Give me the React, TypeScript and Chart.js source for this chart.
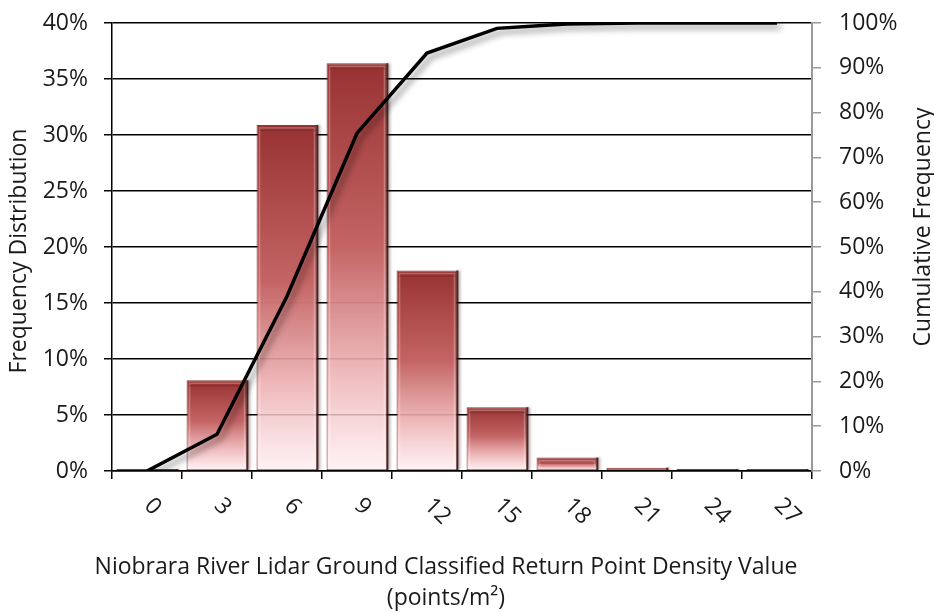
import { useEffect, useRef } from "react";
import { Chart, registerables } from "chart.js";

Chart.register(...registerables);

// Point density classes (points/m²)
const densityClasses = ["0", "3", "6", "9", "12", "15", "18", "21", "24", "27"];
// Share of cells in each class, percent
const frequencyPct = [0.1, 8.1, 30.9, 36.4, 17.9, 5.7, 1.2, 0.3, 0.1, 0.1];
// Running total, percent
const cumulativePct = [0, 8.2, 39.0, 75.4, 93.3, 98.8, 99.8, 100, 100, 100];
// Axis tick values
const frequencyTicks = [0, 5, 10, 15, 20, 25, 30, 35, 40];
const cumulativeTicks = [0, 10, 20, 30, 40, 50, 60, 70, 80, 90, 100];

const FONT = '"Open Sans", "Noto Sans", sans-serif';
const TEXT = "#1a1a1a";
const FONT_SIZE = 23;

const xTitleLines = [
  "Niobrara River Lidar Ground Classified Return Point Density Value",
  "(points/m²)",
];
const leftTitle = "Frequency Distribution";
const rightTitle = "Cumulative Frequency";

const shadowPlugin = {
  id: "shadows",
  beforeDatasetDraw(chart: any, args: any) {
    const ctx = chart.ctx;
    ctx.save();
    if (args.index === 1) {
      ctx.shadowColor = "rgba(0,0,0,0.45)";
      ctx.shadowBlur = 6;
      ctx.shadowOffsetX = 4;
      ctx.shadowOffsetY = 4;
    }
  },
  afterDatasetDraw(chart: any, args: any) {
    const ctx = chart.ctx;
    ctx.restore();
    if (args.index === 0) {
      // bevel edges on each bar
      const meta = chart.getDatasetMeta(0);
      ctx.save();
      meta.data.forEach((bar: any) => {
        const h = bar.base - bar.y;
        const l = bar.x - bar.width / 2;
        const r = bar.x + bar.width / 2;
        ctx.save();
        ctx.shadowColor = "rgba(30,0,0,0.5)";
        ctx.shadowBlur = 3;
        ctx.shadowOffsetX = 1.5;
        ctx.strokeStyle = "rgba(55,10,10,0.85)";
        ctx.lineWidth = 2;
        ctx.beginPath();
        ctx.moveTo(r, bar.y);
        ctx.lineTo(r, bar.base);
        ctx.stroke();
        ctx.restore();
        if (h < 8) return;
        ctx.strokeStyle = "rgba(255,255,255,0.25)";
        ctx.lineWidth = 1.5;
        ctx.strokeRect(l + 3, bar.y + 3, bar.width - 6, h - 5);
        ctx.strokeStyle = "rgba(100,25,25,0.35)";
        ctx.lineWidth = 1;
        ctx.beginPath();
        ctx.moveTo(l + 2, bar.y + 5.5);
        ctx.lineTo(r - 2, bar.y + 5.5);
        ctx.stroke();
      });
      ctx.restore();
    }
  },
};

const labelsPlugin = {
  id: "axisText",
  afterDraw(chart: any) {
    const ctx = chart.ctx;
    const area = chart.chartArea;
    const x = chart.scales.x;
    ctx.save();
    ctx.fillStyle = TEXT;
    ctx.font = `${FONT_SIZE}px ${FONT}`;
    // slanted category labels
    densityClasses.forEach((lab, i) => {
      const px = x.getPixelForValue(i);
      ctx.save();
      ctx.translate(px + 1, area.bottom + 31);
      ctx.rotate(Math.PI / 4);
      ctx.textAlign = "left";
      ctx.textBaseline = "middle";
      ctx.fillText(lab, 0, 0);
      ctx.restore();
    });
    // x title
    ctx.textAlign = "center";
    ctx.textBaseline = "middle";
    ctx.fillText(xTitleLines[0], 446, 567);
    ctx.fillText(xTitleLines[1], 446, 598);
    // left title
    const midY = (area.top + area.bottom) / 2;
    ctx.save();
    ctx.translate(19, midY + 4);
    ctx.rotate(-Math.PI / 2);
    ctx.fillText(leftTitle, 0, 0);
    ctx.restore();
    // right title
    ctx.save();
    ctx.translate(923, midY - 20);
    ctx.rotate(-Math.PI / 2);
    ctx.fillText(rightTitle, 0, 0);
    ctx.restore();
    ctx.restore();
  },
};

function barFill(context: any) {
  const chart = context.chart;
  const fallback = "rgb(190,95,95)";
  if (context.type !== "data" || !chart.chartArea) return fallback;
  const y = chart.scales.y;
  const top = y.getPixelForValue(frequencyPct[context.dataIndex]);
  const bottom = y.getPixelForValue(0);
  if (bottom - top < 3) return "rgb(200,110,110)";
  const g = chart.ctx.createLinearGradient(0, top, 0, bottom);
  g.addColorStop(0, "rgba(152,50,50,1)");
  g.addColorStop(0.45, "rgba(196,100,100,1)");
  g.addColorStop(0.75, "rgba(236,176,178,0.9)");
  g.addColorStop(1, "rgba(255,238,240,0.75)");
  return g;
}

const noVerticalPadding = (s: any) => {
  s.paddingTop = 0;
  s.paddingBottom = 0;
};

export default function App() {
  const canvasRef = useRef<HTMLCanvasElement | null>(null);

  useEffect(() => {
    const canvas = canvasRef.current;
    if (!canvas) return;
    const chart = new Chart(canvas, {
      type: "bar",
      data: {
        labels: densityClasses,
        datasets: [
          {
            type: "bar",
            label: "Frequency",
            data: frequencyPct,
            yAxisID: "y",
            backgroundColor: barFill,
            borderColor: "rgba(120,35,35,0.9)",
            borderWidth: 1,
            borderSkipped: false,
            barPercentage: 0.87,
            categoryPercentage: 1,
            minBarLength: 2,
            order: 1,
          },
          {
            type: "line",
            label: "Cumulative",
            data: cumulativePct,
            yAxisID: "y2",
            borderColor: "#000",
            borderWidth: 3.5,
            pointRadius: 0,
            tension: 0,
            fill: false,
            order: 0,
          },
        ],
      },
      options: {
        responsive: false,
        animation: false,
        events: [],
        layout: { padding: { top: 23, left: 0, right: 0, bottom: 0 } },
        plugins: { legend: { display: false }, tooltip: { enabled: false } },
        scales: {
          x: {
            type: "category",
            offset: true,
            grid: {
              offset: true,
              drawOnChartArea: false,
              drawTicks: true,
              tickLength: 8,
              color: "#000",
              lineWidth: 1.5,
            },
            border: { color: "#000", width: 1.5 },
            ticks: { display: false },
            afterFit: (s: any) => {
              s.height = 141;
              s.paddingLeft = 0;
              s.paddingRight = 0;
            },
          },
          y: {
            position: "left",
            min: 0,
            max: 40,
            afterBuildTicks: (s: any) => {
              s.ticks = frequencyTicks.map((v) => ({ value: v }));
            },
            ticks: {
              callback: (v: any) => `${v}%`,
              font: { family: FONT, size: FONT_SIZE },
              color: TEXT,
              padding: 16,
            },
            grid: { color: "#000", lineWidth: 1.5, tickLength: 8 },
            border: { color: "#000", width: 1.5 },
            afterFit: (s: any) => {
              s.width = 112;
              noVerticalPadding(s);
            },
          },
          y2: {
            position: "right",
            min: 0,
            max: 100,
            afterBuildTicks: (s: any) => {
              s.ticks = cumulativeTicks.map((v) => ({ value: v }));
            },
            ticks: {
              callback: (v: any) => `${v}%`,
              font: { family: FONT, size: FONT_SIZE },
              color: TEXT,
              padding: 18,
            },
            grid: {
              drawOnChartArea: false,
              color: "#9a9a9a",
              lineWidth: 1.5,
              tickLength: 9,
            },
            border: { color: "#9a9a9a", width: 2 },
            afterFit: (s: any) => {
              s.width = 122;
              noVerticalPadding(s);
            },
          },
        },
      },
      plugins: [shadowPlugin, labelsPlugin],
    } as any);
    return () => chart.destroy();
  }, []);

  return (
    <div
      style={{
        position: "fixed",
        left: 0,
        top: 0,
        width: 934,
        height: 612,
        background: "#fff",
      }}
    >
      <canvas ref={canvasRef} width={934} height={612} />
    </div>
  );
}
